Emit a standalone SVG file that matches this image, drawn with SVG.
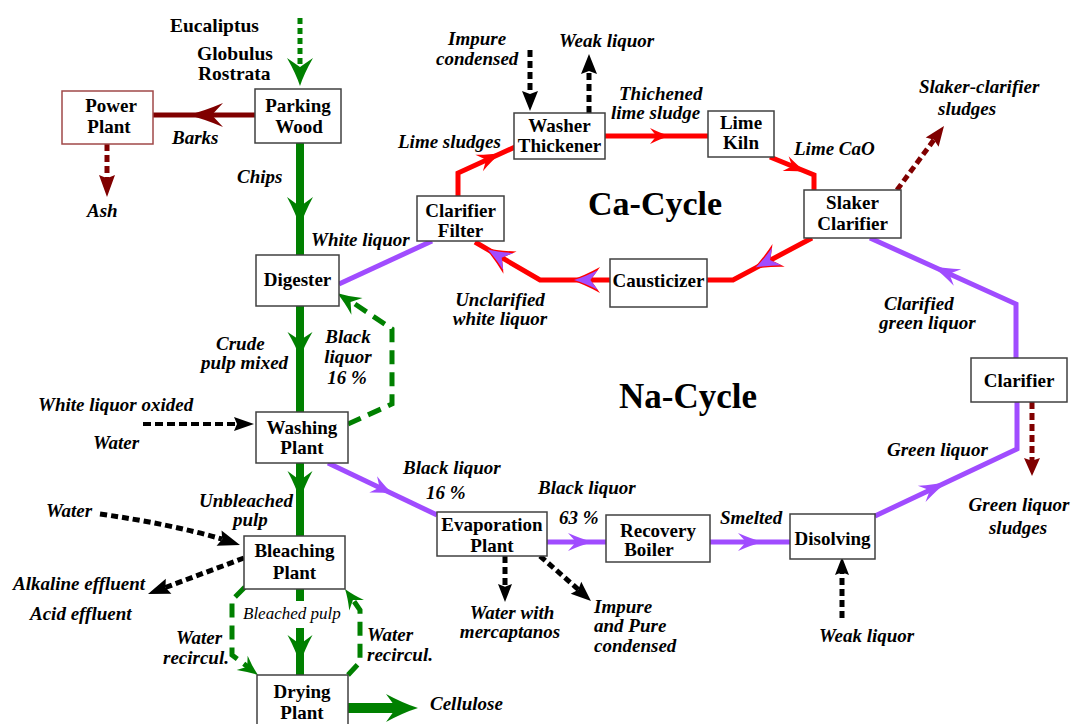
<svg xmlns="http://www.w3.org/2000/svg" xmlns:xlink="http://www.w3.org/1999/xlink" width="1072" height="724" viewBox="0 0 1072 724">
<style>
.box{fill:#fff;stroke:#404040;stroke-width:1.5}
.nt{font-family:"Liberation Serif","Times New Roman",serif;font-weight:bold;font-size:19px;fill:#000;text-anchor:middle}
.lb{font-family:"Liberation Serif","Times New Roman",serif;font-weight:bold;font-style:italic;font-size:19px;fill:#000}
.tb{font-family:"Liberation Serif","Times New Roman",serif;font-weight:bold;font-size:19.5px;fill:#000}
.big{font-family:"Liberation Serif","Times New Roman",serif;font-weight:bold;fill:#000}
.g{fill:none;stroke:#008000;stroke-width:8}
.gd{fill:none;stroke:#008000;stroke-width:5;stroke-dasharray:14 8}
.gdot{fill:none;stroke:#008000;stroke-width:5;stroke-dasharray:6 4}
.br{fill:none;stroke:#800000;stroke-width:5}
.brd{fill:none;stroke:#800000;stroke-width:5;stroke-dasharray:7 4}
.kd{fill:none;stroke:#000;stroke-width:5;stroke-dasharray:7 4}
.kd4{fill:none;stroke:#000;stroke-width:4;stroke-dasharray:8 4}
.p{fill:none;stroke:#A04CFF;stroke-width:5;stroke-linejoin:miter}
.r{fill:none;stroke:#FF0000;stroke-width:5;stroke-linejoin:miter}
.ag{fill:#008000}
.abr{fill:#800000}
.ak{fill:#000}
.ap{fill:#A04CFF}
.ar{fill:#FF0000}
</style>
<defs>
<path id="barb" d="M0,0 Q-0.45,-0.32 -1,-1 L-0.68,0 L-1,1 Q-0.45,0.32 0,0 Z"/>
<path id="tri" d="M0,0 L-1,-1 L-0.85,0 L-1,1 Z"/>
</defs>
<rect width="1072" height="724" fill="#fff"/>

<g id="connectors">
<path class="gdot" d="M300,18 V72"/>
<use xlink:href="#barb" class="ag" transform="translate(300,86) rotate(90) scale(28,13)"/>
<path class="g" d="M300,143 V255"/>
<use xlink:href="#barb" class="ag" transform="translate(300,227) rotate(90) scale(30,13)"/>
<path class="g" d="M300,306 V412"/>
<use xlink:href="#barb" class="ag" transform="translate(300,358) rotate(90) scale(26,12.5)"/>
<path class="g" d="M300,463 V536"/>
<use xlink:href="#barb" class="ag" transform="translate(300,500) rotate(90) scale(29,12.5)"/>
<path class="g" d="M300,589 V601 M300,628 V675"/>
<use xlink:href="#barb" class="ag" transform="translate(300,664) rotate(90) scale(29,12.5)"/>
<path class="g" d="M348,708 H398" style="stroke-width:10"/>
<use xlink:href="#barb" class="ag" transform="translate(418,708) rotate(0) scale(32,14)"/>
<path class="gd" d="M348,424 L392,404 L392,329 L352,302"/>
<use xlink:href="#barb" class="ag" transform="translate(337,293) rotate(213.7) scale(24,10)"/>
<path class="gd" d="M245,587 L232,600 L232,655 L248,667"/>
<use xlink:href="#barb" class="ag" transform="translate(258,675) rotate(37.6) scale(20,9)"/>
<path class="gd" d="M348,675 L360,662 L360,610 L353,600"/>
<use xlink:href="#barb" class="ag" transform="translate(345,589) rotate(234.5) scale(20,9)"/>
<path class="br" d="M255,115 H153"/>
<use xlink:href="#barb" class="abr" transform="translate(188,115) rotate(180) scale(35,12)"/>
<path class="brd" d="M107,144 V182"/>
<use xlink:href="#tri" class="abr" transform="translate(107,197) rotate(90) scale(22,8)"/>
<path class="brd" d="M897,190 L936,137"/>
<use xlink:href="#tri" class="abr" transform="translate(944,126) rotate(-53.7) scale(20,8)"/>
<path class="brd" d="M1032,402 V462"/>
<use xlink:href="#tri" class="abr" transform="translate(1032,476) rotate(90) scale(18,8)"/>
<path class="kd4" d="M143,424 H238"/>
<use xlink:href="#tri" class="ak" transform="translate(254,424) rotate(0) scale(20,7)"/>
<path class="kd" d="M100,514 Q170,524 222,539"/>
<use xlink:href="#tri" class="ak" transform="translate(240,545) rotate(18) scale(22,8)"/>
<path class="kd" d="M244,558 L164,588"/>
<use xlink:href="#tri" class="ak" transform="translate(148,594) rotate(159.4) scale(22,8)"/>
<path class="kd" d="M530,50 V94"/>
<use xlink:href="#tri" class="ak" transform="translate(530,111) rotate(90) scale(20,8)"/>
<path class="kd" d="M589,113 V70"/>
<use xlink:href="#tri" class="ak" transform="translate(589,54) rotate(-90) scale(20,8)"/>
<path class="kd" d="M505,556 V588"/>
<use xlink:href="#tri" class="ak" transform="translate(505,602) rotate(90) scale(18,7)"/>
<path class="kd" d="M540,556 L580,591"/>
<use xlink:href="#tri" class="ak" transform="translate(591,601) rotate(41.4) scale(20,8)"/>
<path class="kd" d="M842,618 V572"/>
<use xlink:href="#tri" class="ak" transform="translate(842,557) rotate(-90) scale(18,7)"/>
<path class="p" d="M339,284 L432,241"/>
<path class="p" d="M328,463 L437,515"/>
<use xlink:href="#barb" class="ap" transform="translate(393,494) rotate(25.7) scale(22,9)"/>
<path class="p" d="M547,542 H606"/>
<use xlink:href="#barb" class="ap" transform="translate(593,542) rotate(0) scale(25,9)"/>
<path class="p" d="M710,542 H790"/>
<use xlink:href="#barb" class="ap" transform="translate(763,542) rotate(0) scale(25,9)"/>
<path class="p" d="M875,516 L1017,449 V402"/>
<use xlink:href="#barb" class="ap" transform="translate(947,482) rotate(-25.3) scale(28,9)"/>
<path class="p" d="M1016,358 V304 L870,238"/>
<use xlink:href="#barb" class="ap" transform="translate(932,266) rotate(204.3) scale(28,9)"/>
<path class="r" d="M458,196 V173 L515,147"/>
<use xlink:href="#barb" class="ar" transform="translate(501,153) rotate(-24.5) scale(24,9)"/>
<path class="r" d="M605,136 H708"/>
<use xlink:href="#barb" class="ar" transform="translate(670,136) rotate(0) scale(20,8)"/>
<path class="r" d="M770,157 L814,175 V190"/>
<use xlink:href="#barb" class="ar" transform="translate(806,172) rotate(22.2) scale(22,8)"/>
<path class="r" d="M812,238 L733,280 H707"/>
<g transform="translate(753,269) rotate(152)">
<use xlink:href="#barb" class="ar" transform="scale(29,13)"/>
<use xlink:href="#barb" class="ap" transform="translate(-3,0) scale(24,10)"/>
</g>
<path class="r" d="M610,280 H540 L475,242"/>
<g transform="translate(571,280) rotate(180)">
<use xlink:href="#barb" class="ar" transform="scale(29,13)"/>
<use xlink:href="#barb" class="ap" transform="translate(-3,0) scale(24,10)"/>
</g>
<g transform="translate(485,248) rotate(210.3)">
<use xlink:href="#barb" class="ar" transform="scale(29,13)"/>
<use xlink:href="#barb" class="ap" transform="translate(-3,0) scale(24,10)"/>
</g>
</g>

<g id="power-plant"><rect class="box" x="62" y="91" width="91" height="53" style="stroke:#A04848"/><text class="nt" x="111" y="112">Power</text><text class="nt" x="109" y="133">Plant</text></g>
<g id="parking-wood"><rect class="box" x="255" y="89" width="86" height="54"/><text class="nt" x="298" y="112">Parking</text><text class="nt" x="299" y="133">Wood</text></g>
<g id="digester"><rect class="box" x="256" y="255" width="83" height="51"/><text class="nt" x="297.5" y="286">Digester</text></g>
<g id="washing-plant"><rect class="box" x="256" y="412" width="92" height="51"/><text class="nt" x="302" y="434">Washing</text><text class="nt" x="302" y="454">Plant</text></g>
<g id="bleaching-plant"><rect class="box" x="244" y="536" width="101" height="53"/><text class="nt" x="294.5" y="557">Bleaching</text><text class="nt" x="294.5" y="579">Plant</text></g>
<g id="drying-plant"><rect class="box" x="257" y="675" width="91" height="52"/><text class="nt" x="302" y="698">Drying</text><text class="nt" x="302" y="719">Plant</text></g>
<g id="evaporation-plant"><rect class="box" x="437" y="512" width="110" height="44"/><text class="nt" x="492" y="531">Evaporation</text><text class="nt" x="492" y="552">Plant</text></g>
<g id="recovery-boiler"><rect class="box" x="606" y="515" width="104" height="47"/><text class="nt" x="658" y="537">Recovery</text><text class="nt" x="649" y="556">Boiler</text></g>
<g id="disolving"><rect class="box" x="790" y="514" width="85" height="45"/><text class="nt" x="832.5" y="545">Disolving</text></g>
<g id="clarifier"><rect class="box" x="971" y="358" width="96" height="44"/><text class="nt" x="1019" y="387">Clarifier</text></g>
<g id="causticizer"><rect class="box" x="610" y="259" width="97" height="48"/><text class="nt" x="658.5" y="287">Causticizer</text></g>
<g id="slaker-clarifier"><rect class="box" x="804" y="190" width="97" height="48"/><text class="nt" x="852.5" y="209">Slaker</text><text class="nt" x="852.5" y="230">Clarifier</text></g>
<g id="lime-kiln"><rect class="box" x="708" y="111" width="66" height="46"/><text class="nt" x="741" y="129">Lime</text><text class="nt" x="741" y="149">Kiln</text></g>
<g id="washer-thickener"><rect class="box" x="514" y="113" width="91" height="46"/><text class="nt" x="559.5" y="132">Washer</text><text class="nt" x="559.5" y="152">Thickener</text></g>
<g id="clarifier-filter"><rect class="box" x="417" y="196" width="87" height="45"/><text class="nt" x="460.5" y="217">Clarifier</text><text class="nt" x="460.5" y="237">Filter</text></g>

<g id="labels">
<text class="tb" x="170" y="32">Eucaliptus</text>
<text class="tb" x="197" y="60">Globulus</text>
<text class="tb" x="198" y="80">Rostrata</text>
<text class="lb" x="172" y="144">Barks</text>
<text class="lb" x="87" y="217">Ash</text>
<text class="lb" x="237" y="183">Chips</text>
<text class="lb" x="311" y="246">White liquor</text>
<text class="lb" x="216" y="350">Crude</text>
<text class="lb" x="201" y="369">pulp mixed</text>
<text class="lb" x="348" y="343" text-anchor="middle">Black</text>
<text class="lb" x="348" y="363" text-anchor="middle">liquor</text>
<text class="lb" x="347" y="384" text-anchor="middle">16 %</text>
<text class="lb" x="38" y="411">White liquor oxided</text>
<text class="lb" x="93" y="449">Water</text>
<text class="lb" x="500" y="306" text-anchor="middle">Unclarified</text>
<text class="lb" x="500" y="325" text-anchor="middle">white liquor</text>
<text class="big" x="588" y="215" font-size="34">Ca-Cycle</text>
<text class="big" x="619" y="408" font-size="35">Na-Cycle</text>
<text class="lb" x="403" y="474">Black liquor</text>
<text class="lb" x="426" y="499">16 %</text>
<text class="lb" x="538" y="494">Black liquor</text>
<text class="lb" x="559" y="524">63 %</text>
<text class="lb" x="720" y="524">Smelted</text>
<text class="lb" x="512" y="619" text-anchor="middle">Water with</text>
<text class="lb" x="510" y="638" text-anchor="middle">mercaptanos</text>
<text class="lb" x="594" y="613">Impure</text>
<text class="lb" x="594" y="632">and Pure</text>
<text class="lb" x="594" y="652">condensed</text>
<text class="lb" x="819" y="642">Weak liquor</text>
<text class="lb" x="1019" y="511" text-anchor="middle">Green liquor</text>
<text class="lb" x="1018" y="534" text-anchor="middle">sludges</text>
<text class="lb" x="887" y="456">Green liquor</text>
<text class="lb" x="884" y="310">Clarified</text>
<text class="lb" x="879" y="329">green liquor</text>
<text class="lb" x="919" y="93">Slaker-clarifier</text>
<text class="lb" x="938" y="115">sludges</text>
<text class="lb" x="794" y="155">Lime CaO</text>
<text class="lb" x="619" y="100">Thichened</text>
<text class="lb" x="611" y="119">lime sludge</text>
<text class="lb" x="559" y="47">Weak liquor</text>
<text class="lb" x="448" y="45">Impure</text>
<text class="lb" x="436" y="65">condensed</text>
<text class="lb" x="398" y="148">Lime sludges</text>
<text class="lb" x="199" y="507">Unbleached</text>
<text class="lb" x="233" y="526">pulp</text>
<text class="lb" x="46" y="517">Water</text>
<text class="lb" x="13" y="590">Alkaline effluent</text>
<text class="lb" x="30" y="620">Acid effluent</text>
<text class="lb" x="243" y="619" style="font-weight:normal;font-size:17px">Bleached pulp</text>
<text class="lb" x="176" y="644">Water</text>
<text class="lb" x="163" y="664">recircul.</text>
<text class="lb" x="367" y="641">Water</text>
<text class="lb" x="367" y="661">recircul.</text>
<text class="lb" x="430" y="710">Cellulose</text>
</g>
</svg>
